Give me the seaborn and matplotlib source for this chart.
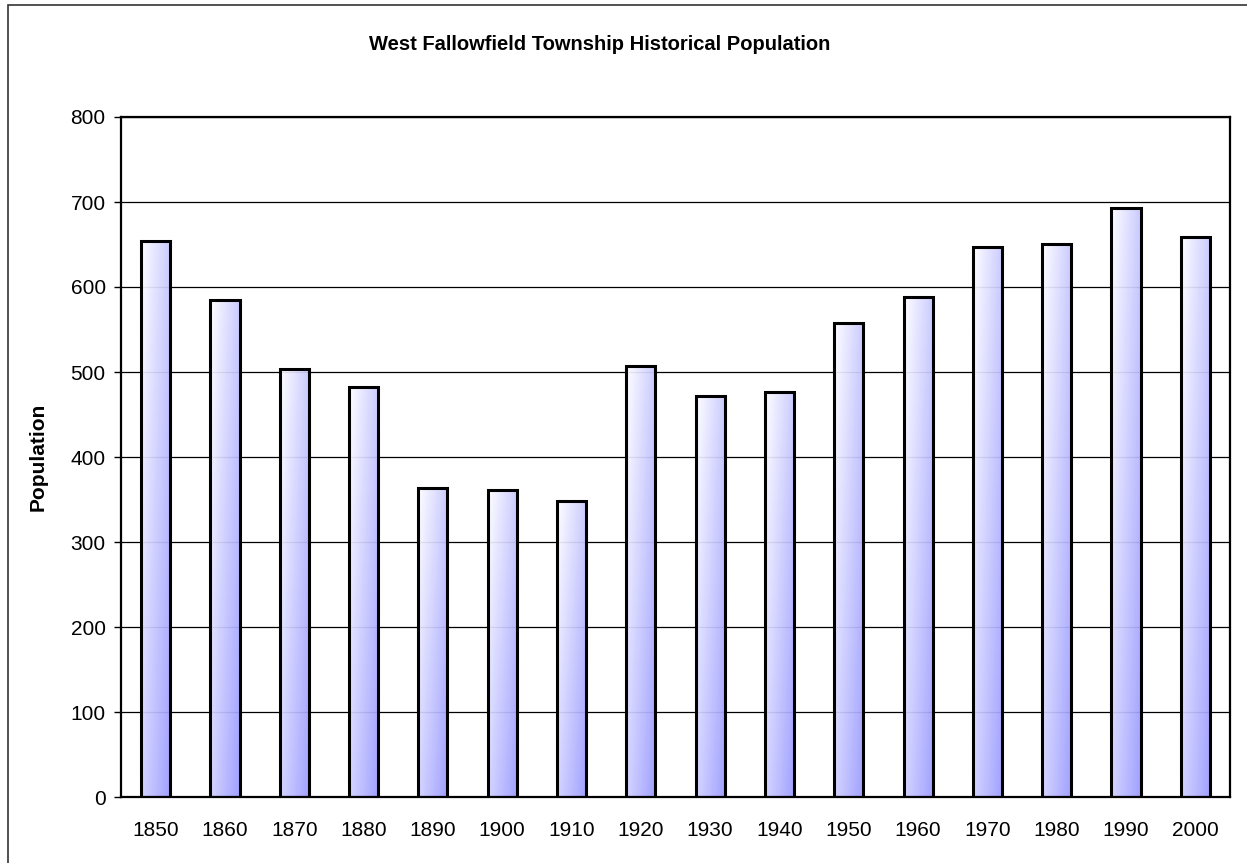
#import libraries
import numpy as np
import pandas as pd
import matplotlib
matplotlib.use('Agg')
import matplotlib.pyplot as plt
from matplotlib.patches import Rectangle
import seaborn as sns

# data
years = ['1850', '1860', '1870', '1880', '1890', '1900', '1910', '1920',
         '1930', '1940', '1950', '1960', '1970', '1980', '1990', '2000']
population = [654, 585, 503, 482, 364, 361, 348, 507,
              472, 476, 558, 588, 647, 651, 693, 659]
y_ticks = [0, 100, 200, 300, 400, 500, 600, 700, 800]

df = pd.DataFrame({'year': years, 'population': population})

sns.set_style('white')
plt.rcParams['font.family'] = ['Liberation Sans', 'DejaVu Sans']
plt.rcParams['text.color'] = 'black'
plt.rcParams['axes.labelcolor'] = 'black'
plt.rcParams['xtick.color'] = 'black'
plt.rcParams['ytick.color'] = 'black'

fig = plt.figure(figsize=(12.47, 8.63), dpi=100)
ax = fig.add_axes([121 / 1247, 1 - 797 / 863, (1230 - 121) / 1247, (797 - 117) / 863])

sns.barplot(data=df, x='year', y='population', color='white', edgecolor='black',
            linewidth=2.2, width=0.42, saturation=1, ax=ax, zorder=3)

# gradient fill inside each bar
nx, ny = 60, 200
gx = np.linspace(0, 1, nx)[None, :]
gy = np.linspace(0, 1, ny)[:, None]
f = 0.55 * gx + 0.45 * gy
blue = np.array([0.60, 0.60, 1.0])
grad = np.ones((ny, nx, 4))
for c in range(3):
    grad[:, :, c] = 1 - f * (1 - blue[c])
grad[:, :, 3] = 0.93

for p in ax.patches:
    x0, w, h = p.get_x(), p.get_width(), p.get_height()
    p.set_facecolor('none')
    p.set_zorder(3)
    im = ax.imshow(grad, extent=(x0, x0 + w, 0, h), aspect='auto',
                   origin='upper', zorder=2.5, interpolation='bilinear')
    im.set_clip_path(p)

ax.set_xlim(-0.5, len(years) - 0.5)
ax.set_ylim(0, 800)
ax.set_yticks(y_ticks)
ax.set_yticklabels([str(t) for t in y_ticks], fontsize=15)
ax.set_xticks(range(len(years)))
ax.set_xticklabels(years, fontsize=15)
ax.set_xticks(np.arange(-0.5, len(years), 1), minor=True)
ax.tick_params(axis='x', which='major', length=0, pad=17)
ax.tick_params(axis='x', which='minor', length=5, width=1, direction='out', color='black')
ax.tick_params(axis='y', which='major', length=5, width=1, direction='out', color='black',
               left=True, pad=6)

ax.yaxis.grid(True, color='black', linewidth=0.9)
ax.set_axisbelow(True)
for s in ax.spines.values():
    s.set_visible(True)
    s.set_color('black')
    s.set_linewidth(1.6)

ax.set_xlabel('')
ax.set_ylabel('Population', fontsize=15, fontweight='bold')
ax.yaxis.set_label_coords(-0.066, 0.5)

fig.text(600 / 1247, 1 - 45 / 863, 'West Fallowfield Township Historical Population',
         ha='center', va='center', fontsize=14.5, fontweight='bold', color='black')

# outer chart border
fig.patches.append(Rectangle((8 / 1247, -0.1), 1.2, 1 - 5 / 863 + 0.1,
                             transform=fig.transFigure, fill=False,
                             edgecolor='#333333', linewidth=1.2))

fig.savefig('out.png', dpi=100)
